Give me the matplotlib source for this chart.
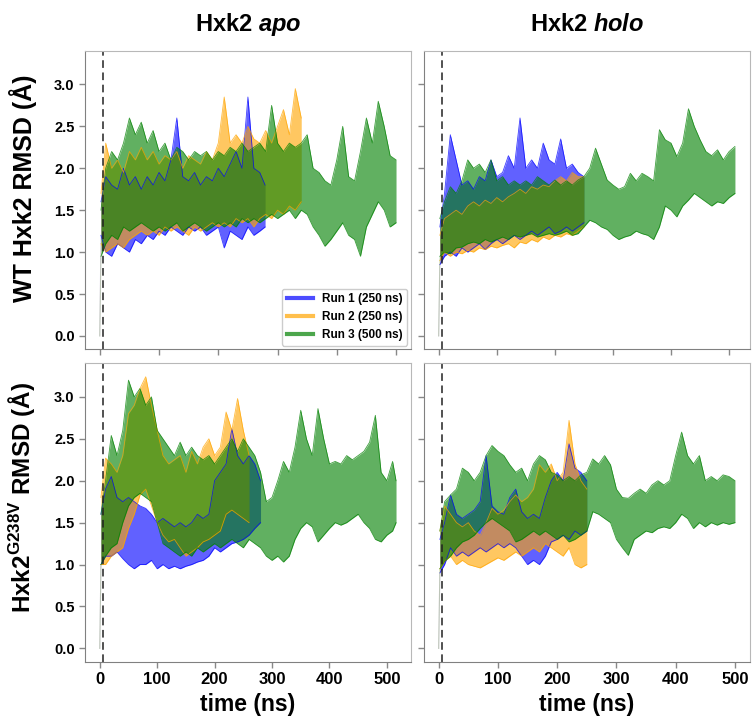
import numpy as np
import matplotlib
matplotlib.use('Agg')
import matplotlib.pyplot as plt
from matplotlib.lines import Line2D

plt.rcParams['font.family'] = ['Liberation Sans', 'DejaVu Sans']
plt.rcParams['font.weight'] = 'bold'
plt.rcParams['mathtext.fontset'] = 'custom'
plt.rcParams['mathtext.rm'] = 'Liberation Sans:bold'
plt.rcParams['mathtext.bf'] = 'Liberation Sans:bold'
plt.rcParams['mathtext.it'] = 'Liberation Sans:italic:bold'

run_labels = ['Run 1 (250 ns)', 'Run 2 (250 ns)', 'Run 3 (500 ns)']
run_colors = ['#0000ff', '#ffa500', '#008000']

# --- WT apo ---
wt_apo_end = [279, 340, 500]
wt_apo_r1_lo = [0, 1.2, 1.0, 0.95, 1.1, 1.05, 1.0, 1.15, 1.1, 1.2, 1.15, 1.25, 1.2, 1.3, 1.25, 1.2,
                1.3, 1.25, 1.3, 1.2, 1.25, 1.3, 1.05, 1.25, 1.2, 1.15, 1.3, 1.2, 1.25, 1.3]
wt_apo_r1_hi = [0, 1.6, 1.9, 1.8, 1.75, 2.0, 1.8, 1.9, 1.75, 1.9, 1.8, 1.95, 1.85, 2.1, 2.6, 1.9,
                1.85, 1.95, 1.8, 1.9, 1.85, 2.0, 1.9, 2.05, 2.2, 2.0, 2.85, 2.0, 1.95, 1.8]
wt_apo_r2_lo = [0, 1.1, 1.0, 1.05, 1.1, 1.05, 1.15, 1.2, 1.25, 1.2, 1.25, 1.2,
                1.3, 1.25, 1.3, 1.25, 1.2, 1.3, 1.25, 1.3, 1.35, 1.3,
                1.35, 1.3, 1.4, 1.35, 1.4, 1.3, 1.4, 1.45, 1.4, 1.5,
                1.45, 1.55, 1.5, 1.6]
wt_apo_r2_hi = [0, 1.7, 2.3, 2.0, 2.1, 1.95, 2.2, 2.1, 2.25, 2.1, 2.2, 2.05,
                2.15, 2.1, 2.2, 2.0, 2.15, 2.1, 2.05, 2.2, 2.1, 2.3,
                2.85, 2.3, 2.4, 2.3, 2.5, 2.35, 2.3, 2.45, 2.3, 2.5,
                2.7, 2.4, 2.95, 2.6]
wt_apo_r3_lo = [0, 0.95, 1.1, 1.2, 1.15, 1.3, 1.25, 1.3, 1.35, 1.3, 1.25, 1.3,
                1.25, 1.3, 1.35, 1.25, 1.3, 1.35, 1.3, 1.25, 1.3, 1.35,
                1.3, 1.35, 1.3, 1.4, 1.35, 1.4, 1.35, 1.4, 1.45, 1.4,
                1.45, 1.5, 1.4, 1.5, 1.45, 1.3, 1.2, 1.07, 1.15, 1.25,
                1.35, 1.2, 1.15, 0.95, 1.3, 1.45, 1.6, 1.5, 1.3, 1.35]
wt_apo_r3_hi = [0, 1.5, 2.0, 2.2, 2.1, 2.3, 2.6, 2.4, 2.55, 2.3, 2.45, 2.2,
                2.3, 2.1, 2.25, 2.2, 2.1, 2.2, 2.15, 2.2, 2.1, 2.2,
                2.15, 2.25, 2.2, 2.3, 2.2, 2.25, 2.3, 2.2, 2.75, 2.3,
                2.2, 2.3, 2.25, 2.3, 2.4, 2.0, 1.95, 1.85, 1.8, 2.1,
                2.5, 1.9, 1.85, 2.2, 2.6, 2.3, 2.8, 2.5, 2.15, 2.1]

# --- WT holo ---
wt_holo_end = [250, 250, 510]
wt_holo_r1_lo = [0, 0.85, 0.95, 1.0, 0.95, 1.05, 1.0, 1.05, 1.1, 1.03, 1.1, 1.15,
                 1.1, 1.15, 1.2, 1.15, 1.2, 1.25, 1.2, 1.25, 1.3, 1.22,
                 1.25, 1.3, 1.25, 1.3, 1.35]
wt_holo_r1_hi = [0, 1.3, 1.7, 2.4, 2.1, 1.8, 1.85, 1.75, 1.9, 1.85, 2.1, 1.9,
                 1.95, 2.15, 2.0, 2.6, 2.0, 2.1, 2.0, 2.3, 2.1, 2.05,
                 2.35, 2.0, 2.05, 1.95, 1.9]
wt_holo_r2_lo = [0, 0.9, 1.0, 0.95, 1.0, 0.98, 1.02, 1.0, 1.05, 1.03, 1.07, 1.05,
                 1.08, 1.1, 1.05, 1.12, 1.1, 1.15, 1.12, 1.18, 1.15, 1.2,
                 1.18, 1.22, 1.2, 1.25, 1.3]
wt_holo_r2_hi = [0, 1.2, 1.4, 1.45, 1.5, 1.45, 1.55, 1.6, 1.55, 1.62, 1.58, 1.65,
                 1.6, 1.66, 1.7, 1.75, 1.7, 1.78, 1.75, 1.8, 1.78, 1.85,
                 1.9, 1.85, 1.95, 1.9, 1.9]
wt_holo_r3_lo = [0, 0.95, 1.0, 0.98, 1.05, 1.06, 1.1, 1.12, 1.1, 1.15, 1.12, 1.15,
                 1.18, 1.15, 1.2, 1.18, 1.2, 1.22, 1.18, 1.2, 1.22, 1.2,
                 1.22, 1.25, 1.2, 1.22, 1.3, 1.38, 1.35, 1.3, 1.27, 1.2,
                 1.15, 1.18, 1.2, 1.25, 1.22, 1.2, 1.15, 1.3, 1.55, 1.5,
                 1.42, 1.55, 1.62, 1.7, 1.65, 1.6, 1.55, 1.6, 1.58, 1.65, 1.7]
wt_holo_r3_hi = [0, 1.4, 1.6, 1.78, 1.7, 1.85, 2.1, 2.0, 2.05, 1.95, 2.1, 1.85,
                 1.9, 1.8, 1.85, 1.8, 1.85, 1.8, 1.9, 1.85, 1.8, 1.86,
                 1.8, 1.85, 1.8, 1.86, 1.9, 2.0, 2.24, 2.05, 1.86, 1.8,
                 1.75, 1.78, 1.94, 1.85, 1.94, 1.9, 1.85, 2.46, 2.34, 2.3,
                 2.14, 2.3, 2.71, 2.5, 2.34, 2.2, 2.15, 2.22, 2.1, 2.2, 2.26]

# --- G238V apo ---
mut_apo_end = [280, 260, 516]
mut_apo_r1_lo = [0, 1.0, 1.1, 1.1, 1.15, 1.07, 1.0, 0.95, 1.0, 1.0, 1.05, 0.95,
                 1.0, 0.95, 0.98, 0.95, 0.98, 1.0, 1.03, 1.05, 1.1, 1.2,
                 1.15, 1.2, 1.25, 1.27, 1.3, 1.35, 1.43, 1.5]
mut_apo_r1_hi = [0, 1.6, 1.9, 2.05, 1.8, 1.75, 1.8, 1.75, 1.7, 1.67, 1.6, 1.5,
                 1.55, 1.5, 1.45, 1.5, 1.45, 1.5, 1.6, 1.55, 1.6, 2.0,
                 2.1, 2.2, 2.62, 2.3, 2.2, 2.3, 2.2, 2.0]
mut_apo_r2_lo = [0, 1.0, 1.0, 1.1, 1.15, 1.2, 1.43, 1.6, 1.83, 1.9, 1.7, 1.5,
                 1.35, 1.27, 1.3, 1.2, 1.1, 1.15, 1.2, 1.27, 1.3, 1.35,
                 1.4, 1.6, 1.65, 1.6, 1.55, 1.5]
mut_apo_r2_hi = [0, 1.8, 2.27, 2.2, 2.1, 2.3, 2.8, 2.9, 3.1, 3.24, 2.9, 2.6,
                 2.3, 2.2, 2.25, 2.3, 2.1, 2.35, 2.2, 2.4, 2.5, 2.3,
                 2.4, 2.82, 2.6, 2.98, 2.6, 2.3]
mut_apo_r3_lo = [0, 1.0, 1.1, 1.2, 1.25, 1.5, 1.7, 1.8, 1.85, 1.8, 1.75, 1.5,
                 1.25, 1.2, 1.15, 1.1, 1.15, 1.1, 1.2, 1.15, 1.2, 1.25,
                 1.2, 1.25, 1.3, 1.25, 1.2, 1.3, 1.25, 1.2, 1.1, 1.05,
                 1.1, 1.03, 1.1, 1.3, 1.43, 1.5, 1.45, 1.27, 1.35, 1.43,
                 1.5, 1.47, 1.5, 1.55, 1.6, 1.5, 1.43, 1.3, 1.27, 1.35, 1.4, 1.5]
mut_apo_r3_hi = [0, 1.6, 2.0, 2.54, 2.3, 2.6, 3.2, 3.0, 3.1, 2.9, 3.0, 2.6,
                 2.5, 2.4, 2.3, 2.46, 2.3, 2.4, 2.3, 2.25, 2.3, 2.2,
                 2.3, 2.4, 2.5, 2.35, 2.5, 2.4, 2.3, 2.1, 1.75, 1.8,
                 2.0, 2.23, 2.1, 2.4, 2.84, 2.5, 2.3, 2.86, 2.5, 2.2,
                 2.23, 2.2, 2.3, 2.25, 2.3, 2.35, 2.46, 2.78, 2.1, 2.0, 2.23, 2.0]

# --- G238V holo ---
mut_holo_end = [250, 250, 500]
mut_holo_r1_lo = [0, 0.9, 1.0, 1.2, 1.1, 1.15, 1.1, 1.15, 1.2, 1.15, 1.2, 1.25,
                  1.2, 1.25, 1.2, 1.1, 1.0, 1.05, 1.0, 1.1, 1.27, 1.3,
                  1.35, 1.3, 1.4, 1.35, 1.4]
mut_holo_r1_hi = [0, 1.3, 1.5, 1.83, 1.6, 1.55, 1.6, 1.65, 1.75, 2.3, 1.7, 1.63,
                  1.6, 1.8, 1.9, 1.63, 1.55, 1.6, 1.55, 1.8, 2.0, 2.1,
                  2.0, 2.44, 2.15, 2.1, 2.0]
mut_holo_r2_lo = [0, 0.95, 1.04, 1.1, 1.0, 1.05, 1.0, 0.98, 0.96, 1.0, 1.04, 1.08,
                  1.05, 1.1, 1.15, 1.1, 1.15, 1.2, 1.15, 1.25, 1.2, 1.15,
                  1.1, 1.2, 1.0, 0.96, 1.0]
mut_holo_r2_hi = [0, 1.4, 1.7, 1.6, 1.5, 1.45, 1.5, 1.4, 1.35, 1.5, 1.67, 1.6,
                  1.65, 1.75, 1.83, 1.75, 1.8, 1.9, 2.19, 2.1, 2.2, 2.0,
                  2.1, 2.72, 2.2, 2.0, 1.9]
mut_holo_r3_lo = [0, 0.95, 1.04, 1.1, 1.2, 1.27, 1.3, 1.35, 1.43, 1.5, 1.55, 1.5,
                  1.45, 1.4, 1.27, 1.3, 1.35, 1.4, 1.35, 1.4, 1.35, 1.3,
                  1.35, 1.27, 1.3, 1.35, 1.4, 1.63, 1.6, 1.55, 1.5, 1.3,
                  1.2, 1.11, 1.3, 1.35, 1.4, 1.38, 1.43, 1.45, 1.43, 1.5,
                  1.6, 1.55, 1.43, 1.5, 1.45, 1.5, 1.47, 1.5, 1.48, 1.5]
mut_holo_r3_hi = [0, 1.4, 1.75, 1.83, 1.9, 2.15, 2.1, 2.0, 2.1, 2.3, 2.42, 2.35,
                  2.3, 2.19, 2.1, 2.15, 2.0, 2.2, 2.3, 2.25, 2.1, 2.07,
                  2.0, 2.05, 2.0, 2.07, 2.1, 2.26, 2.2, 2.3, 2.19, 1.9,
                  1.8, 1.79, 1.85, 1.9, 1.85, 1.95, 2.0, 1.95, 2.0, 2.3,
                  2.58, 2.3, 2.2, 2.3, 2.0, 2.05, 2.0, 2.07, 2.05, 2.0]


def times(end):
    # sampling grid of the read-off envelopes
    return np.r_[0, 2, np.arange(10, end, 10), end]


panels = [
    (wt_apo_end, [(wt_apo_r1_lo, wt_apo_r1_hi), (wt_apo_r2_lo, wt_apo_r2_hi), (wt_apo_r3_lo, wt_apo_r3_hi)]),
    (wt_holo_end, [(wt_holo_r1_lo, wt_holo_r1_hi), (wt_holo_r2_lo, wt_holo_r2_hi), (wt_holo_r3_lo, wt_holo_r3_hi)]),
    (mut_apo_end, [(mut_apo_r1_lo, mut_apo_r1_hi), (mut_apo_r2_lo, mut_apo_r2_hi), (mut_apo_r3_lo, mut_apo_r3_hi)]),
    (mut_holo_end, [(mut_holo_r1_lo, mut_holo_r1_hi), (mut_holo_r2_lo, mut_holo_r2_hi), (mut_holo_r3_lo, mut_holo_r3_hi)]),
]

fig, axes = plt.subplots(2, 2, figsize=(7.52, 7.17), dpi=100, sharey=True)
fig.subplots_adjust(left=0.113, right=0.997, bottom=0.077, top=0.929, wspace=0.04, hspace=0.047)

for ax, (ends, runs) in zip(axes.flat, panels):
    for end, (lo, hi), c in zip(ends, runs, run_colors):
        t = times(end)
        # the t=0 frame (RMSD 0) only shows as a faint stroke
        ax.plot(t[:2], lo[:2], color=c, alpha=0.15, lw=0.8)
        ax.fill_between(t[1:], lo[1:], hi[1:], color=c, alpha=0.62, lw=0)
        ax.plot(t[1:], lo[1:], color=c, alpha=0.75, lw=0.6)
        ax.plot(t[1:], hi[1:], color=c, alpha=0.75, lw=0.6)
    ax.axvline(5, color='#222222', ls=(0, (5, 3)), lw=1.1)
    ax.set_ylim(-0.16, 3.40)
    ax.set_yticks(np.arange(0, 3.01, 0.5))
    ax.set_xticks(np.arange(0, 501, 100))
    ax.tick_params(color='#888888', length=4, width=1)
    ax.tick_params(axis='x', labelsize=12, pad=3)
    ax.tick_params(axis='y', labelsize=10.5)
    for side in ['left', 'bottom']:
        ax.spines[side].set_color('#808080')
    for side in ['top', 'right']:
        ax.spines[side].set_color('#b8b8b8')

axes[0, 0].yaxis.set_major_formatter(matplotlib.ticker.FormatStrFormatter('%.1f'))
for ax in axes[0]:
    ax.tick_params(labelbottom=False)
for ax in axes[1]:
    ax.set_xlabel('time (ns)', fontsize=16.5, fontweight='bold', labelpad=5)

axes[0, 0].set_title('Hxk2 $\\mathit{apo}$', fontsize=17, fontweight='bold', pad=14)
axes[0, 1].set_title('Hxk2 $\\mathit{holo}$', fontsize=17, fontweight='bold', pad=14)
axes[0, 0].set_ylabel('WT Hxk2 RMSD (Å)', fontsize=18, fontweight='bold')
axes[1, 0].set_ylabel('Hxk2$^{\\mathbf{G238V}}$ RMSD (Å)', fontsize=17.5, fontweight='bold')
axes[0, 0].yaxis.set_label_coords(-0.147, 0.54)
axes[1, 0].yaxis.set_label_coords(-0.147, 0.55)

handles = [Line2D([], [], color=c, alpha=0.7, lw=3) for c in run_colors]
leg = axes[0, 0].legend(handles, run_labels, loc='lower right', fontsize=8.5,
                        borderaxespad=0.3, handlelength=2.2, framealpha=1)
leg.get_frame().set_edgecolor('#cccccc')

fig.savefig('out.png', dpi=100)
